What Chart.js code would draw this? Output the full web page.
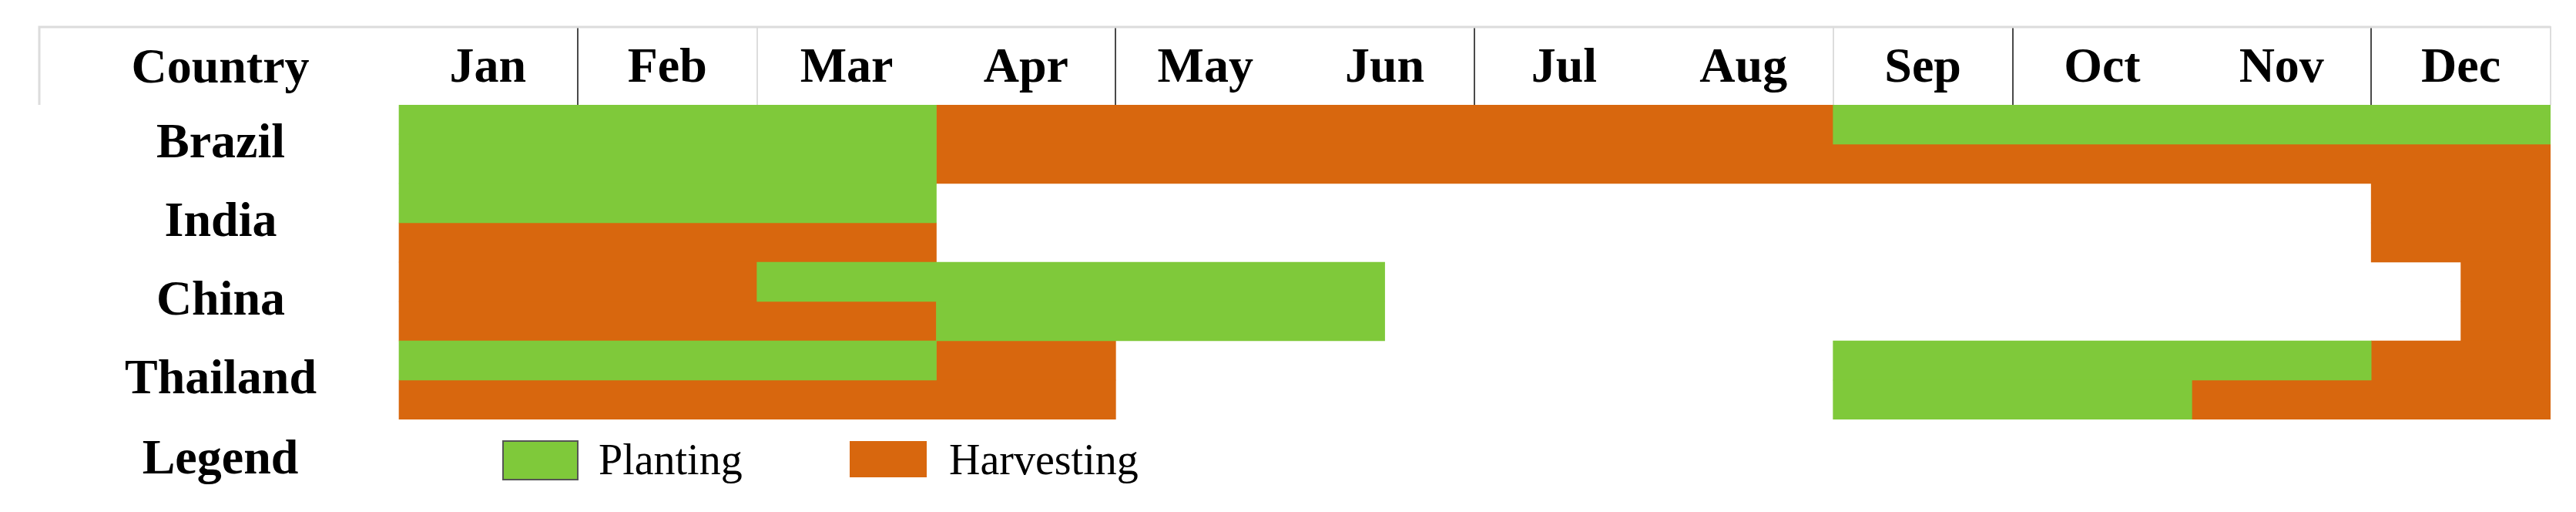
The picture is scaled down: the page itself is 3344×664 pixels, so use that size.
<!DOCTYPE html>
<html>
<head>
<meta charset="utf-8">
<script src="https://cdn.jsdelivr.net/npm/chart.js@4"></script>
<style>
    body { margin: 0; background: #fff; }
    canvas { display: block; }
</style>
</head>
<body>
<canvas id="calendar" width="3344" height="664"></canvas>
<script>

// =============================
// Data
// =============================

const months = ['Jan', 'Feb', 'Mar', 'Apr', 'May', 'Jun', 'Jul', 'Aug', 'Sep', 'Oct', 'Nov', 'Dec'];
const countries = ['Brazil', 'India', 'China', 'Thailand'];

// every country has two half rows (upper / lower)
const rows = ['Brazil 1', 'Brazil 2', 'India 1', 'India 2', 'China 1', 'China 2', 'Thailand 1', 'Thailand 2'];

// [start month, end month] on a 0..12 scale, null = nothing
const plantingA = [[0, 3], [0, 3], [0, 3], null, [2, 5.5], [3, 5.5], [0, 3], [8, 10]];
const plantingB = [[8, 12], null, null, null, null, null, [8, 11], null];
const harvestA = [[3, 8], [3, 12], [11, 12], [0, 3], [0, 2], [0, 3], [3, 4], [0, 4]];
const harvestB = [null, null, null, [11, 12], [11.5, 12], [11.5, 12], [11, 12], [10, 12]];

// header separators
const darkLines = [1, 4, 6, 9, 11];
const lightLines = [2, 8, 12];

const GREEN = '#7fc93a';
const ORANGE = '#d8670e';
const SERIF = '"Liberation Serif", "Times New Roman", serif';
const LABEL_X = 286;


// =============================
// Table frame, corner labels, legend
// =============================

const tableDecor = {
    id: 'tableDecor',
    afterDraw(chart) {
        const { ctx, chartArea } = chart;
        ctx.save();

        // header outline
        ctx.strokeStyle = '#dcdcdc';
        ctx.lineWidth = 3;
        ctx.beginPath();
        ctx.moveTo(51, chartArea.top);
        ctx.lineTo(51, 35);
        ctx.lineTo(chartArea.right, 35);
        ctx.stroke();

        ctx.fillStyle = '#000';
        ctx.textAlign = 'center';
        ctx.textBaseline = 'middle';
        ctx.font = 'bold 64px ' + SERIF;
        ctx.fillText('Country', LABEL_X, 90);
        ctx.fillText('Legend', LABEL_X, 597);

        // legend swatches
        ctx.fillStyle = GREEN;
        ctx.fillRect(653, 572, 97, 50);
        ctx.strokeStyle = '#555';
        ctx.lineWidth = 2;
        ctx.strokeRect(653, 572, 97, 50);

        ctx.fillStyle = ORANGE;
        ctx.fillRect(1103, 572, 100, 47);

        ctx.fillStyle = '#000';
        ctx.textAlign = 'left';
        ctx.font = '56px ' + SERIF;
        ctx.fillText('Planting', 777, 600);
        ctx.fillText('Harvesting', 1232, 600);

        ctx.restore();
    }
};


// =============================
// Chart
// =============================

function barSet(label, data, color) {
    return {
        label: label,
        data: data,
        backgroundColor: color,
        borderWidth: 0,
        grouped: false,
        barPercentage: 1,
        categoryPercentage: 1
    };
}

function lineColor(value) {
    if (darkLines.includes(value)) return '#4a4a4a';
    if (lightLines.includes(value)) return '#dddddd';
    return 'rgba(0,0,0,0)';
}

new Chart(document.getElementById('calendar'), {
    type: 'bar',
    data: {
        labels: rows,
        datasets: [
            barSet('Planting', plantingA, GREEN),
            barSet('Planting', plantingB, GREEN),
            barSet('Harvesting', harvestA, ORANGE),
            barSet('Harvesting', harvestB, ORANGE)
        ]
    },
    options: {
        indexAxis: 'y',
        responsive: false,
        animation: false,
        devicePixelRatio: 1,
        layout: {
            padding: { top: 34, right: 33, bottom: 120, left: 0 }
        },
        plugins: {
            legend: { display: false },
            tooltip: { enabled: false }
        },
        scales: {
            x: {
                type: 'linear',
                position: 'top',
                min: 0,
                max: 12,
                afterFit: (s) => {
                    s.height = 102;
                    s.paddingLeft = 0;
                    s.paddingRight = 0;
                },
                border: { display: false },
                grid: {
                    drawOnChartArea: false,
                    drawTicks: true,
                    tickLength: 102,
                    lineWidth: 2,
                    color: (c) => lineColor(c.tick ? c.tick.value : -1)
                },
                ticks: {
                    stepSize: 0.5,
                    autoSkip: false,
                    maxRotation: 0,
                    minRotation: 0,
                    padding: -94,
                    color: '#000',
                    font: { family: SERIF, size: 64, weight: 'bold' },
                    callback: (v) => (v % 1 === 0.5 ? months[Math.floor(v)] : '')
                }
            },
            y: {
                type: 'category',
                display: false,
                offset: true
            },
            yc: {
                type: 'category',
                labels: countries,
                position: 'left',
                offset: true,
                afterFit: (s) => {
                    // keep the label column 517px wide and don't let the
                    // big tick padding push the plot area around
                    s.width = 517;
                    s.paddingTop = 0;
                    s.paddingBottom = 0;
                },
                border: { display: false },
                grid: { display: false, drawTicks: false },
                ticks: {
                    crossAlign: 'center',
                    padding: 106,
                    color: '#000',
                    font: { family: SERIF, size: 64, weight: 'bold' }
                }
            }
        }
    },
    plugins: [tableDecor]
});

</script>
</body>
</html>
